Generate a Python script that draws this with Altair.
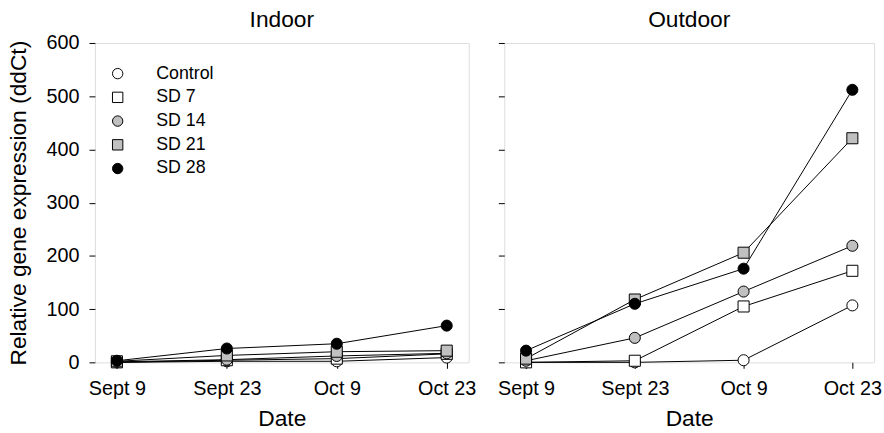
import altair as alt
import pandas as pd

dates = ["Sept 9", "Sept 23", "Oct 9", "Oct 23"]
series = ["Control", "SD 7", "SD 14", "SD 21", "SD 28"]
shapes = ["circle", "square", "circle", "square", "circle"]
fills = ["white", "white", "#c0c0c0", "#c0c0c0", "black"]
strokes = ["black", "black", "black", "black", "black"]

indoor = {
    "Control": [0, 2, 2, 9],
    "SD 7": [0, 4, 7, 16],
    "SD 14": [1, 5, 12, 17],
    "SD 21": [2, 13, 20, 22],
    "SD 28": [3, 26, 35, 69],
}
outdoor = {
    "Control": [0, 0, 4, 107],
    "SD 7": [0, 3, 105, 172],
    "SD 14": [3, 46, 133, 219],
    "SD 21": [7, 118, 206, 421],
    "SD 28": [22, 110, 176, 512],
}

def frame(d):
    rows = []
    for i, s in enumerate(series):
        for dt, v in zip(dates, d[s]):
            rows.append({"Series": s, "Date": dt, "Value": v, "ord": i})
    return pd.DataFrame(rows)

FONT = "Liberation Sans"
TICKS = [0, 100, 200, 300, 400, 500, 600]

def panel(df, title, show_y, show_legend, toff):
    x = alt.X("Date:N", sort=dates,
              scale=alt.Scale(type="point", padding=0.2),
              axis=alt.Axis(title="Date", labelAngle=0, labelFontSize=20,
                            titleFontSize=23, titleFontWeight="normal",
                            labelPadding=11, titlePadding=9, tickSize=6,
                            domain=False, grid=False, labelColor="black",
                            titleColor="black", tickColor="black",
                            labelFont=FONT, titleFont=FONT))
    if show_y:
        yaxis = alt.Axis(title="Relative gene expression (ddCt)", values=TICKS,
                         labelFontSize=20, titleFontSize=23, titleFontWeight="normal",
                         labelPadding=10, titlePadding=16, tickSize=6, grid=False,
                         domain=False, labelColor="black", titleColor="black",
                         tickColor="black", labelFont=FONT, titleFont=FONT)
    else:
        yaxis = alt.Axis(title=None, labels=False, values=TICKS,
                         tickSize=6, grid=False, domain=False, tickColor="black")
    y = alt.Y("Value:Q", scale=alt.Scale(domain=[0, 600], nice=False), axis=yaxis)
    if show_legend:
        leg = alt.Legend(title=None, orient="none", legendX=14, legendY=22,
                         labelFontSize=18, labelFont=FONT, labelColor="black",
                         symbolSize=110, symbolStrokeWidth=1, labelOffset=30,
                         rowPadding=6, padding=0)
    else:
        leg = None
    lines = alt.Chart(df).mark_line(color="black", strokeWidth=1).encode(
        x=x, y=y, detail="Series:N")
    pts = alt.Chart(df).mark_point(filled=True, strokeWidth=1,
                                   size=125, opacity=1).encode(
        x=x, y=y,
        shape=alt.Shape("Series:N", sort=series,
                        scale=alt.Scale(domain=series, range=shapes), legend=leg),
        fill=alt.Fill("Series:N", sort=series,
                      scale=alt.Scale(domain=series, range=fills), legend=leg),
        stroke=alt.Stroke("Series:N", sort=series,
                          scale=alt.Scale(domain=series, range=strokes), legend=leg),
        order=alt.Order("ord:Q"),
    )
    return alt.layer(lines, pts).properties(
        width=378 if show_y else 374, height=323,
        title=alt.TitleParams(title, fontSize=23, fontWeight="normal", font=FONT,
                              color="black", offset=toff, anchor="middle"))

left = panel(frame(indoor), "Indoor", True, True, 1)
right = panel(frame(outdoor), "Outdoor", False, False, 11)

chart = alt.hconcat(left, right, spacing=20).resolve_legend(
    shape="independent", fill="independent", stroke="independent"
).properties(
    padding={"left": 7, "top": 6, "right": 2, "bottom": 0},
).configure_view(stroke="black", strokeWidth=1.5).configure(background="white")

chart.save("out.html", embed_options={"renderer": "svg", "actions": False})
